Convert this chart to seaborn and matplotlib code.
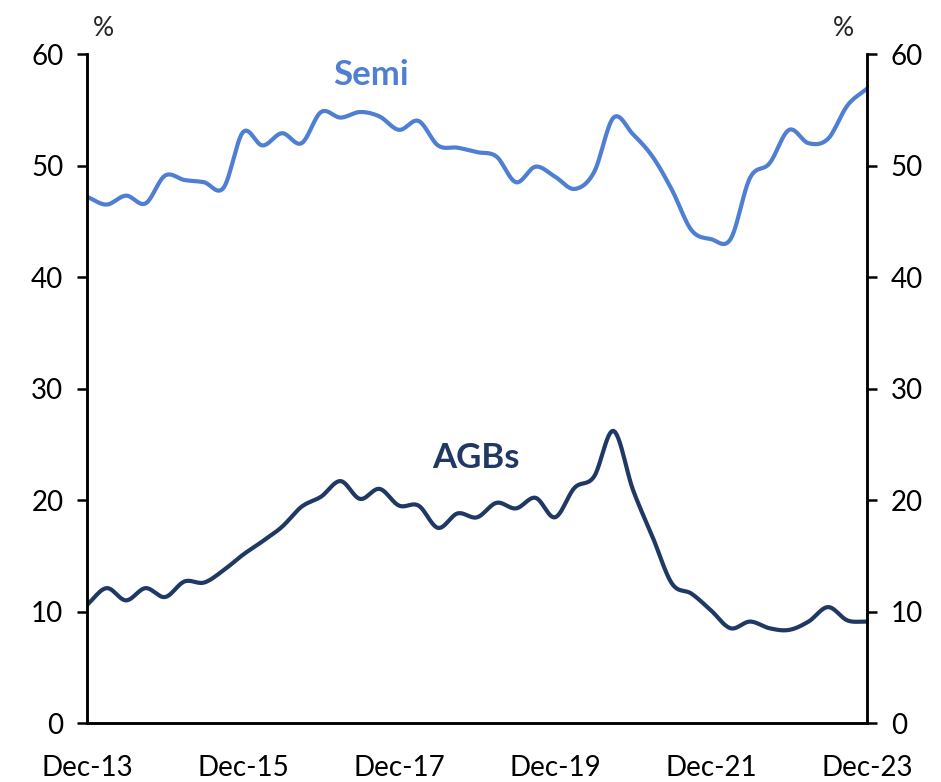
import numpy as np
import pandas as pd
import matplotlib
matplotlib.use("Agg")
import matplotlib.pyplot as plt
import seaborn as sns

# Quarterly observations, Dec-13 through Dec-23 (per cent)
quarters = pd.period_range("2013Q4", "2023Q4", freq="Q")
semi = [47.2, 46.5, 47.3, 46.6, 49.1, 48.7, 48.5, 48.0, 53.0, 51.8,
        52.9, 52.0, 54.8, 54.3, 54.8, 54.4, 53.2, 54.0, 51.8, 51.6,
        51.2, 50.8, 48.5, 49.9, 49.0, 47.9, 49.4, 54.3, 52.8, 50.8,
        47.8, 44.2, 43.4, 43.4, 48.9, 50.2, 53.2, 52.0, 52.4, 55.4,
        56.9]
agbs = [10.6, 12.1, 11.0, 12.1, 11.3, 12.7, 12.6, 13.7, 15.1, 16.3,
        17.6, 19.4, 20.3, 21.7, 20.1, 21.0, 19.5, 19.5, 17.5, 18.8,
        18.45, 19.75, 19.25, 20.2, 18.45, 21.1, 22.1, 26.2, 20.9, 16.7,
        12.5, 11.6, 10.1, 8.5, 9.1, 8.5, 8.35, 9.1, 10.4, 9.2,
        9.1]
tick_labels = ["Dec-13", "Dec-15", "Dec-17", "Dec-19", "Dec-21", "Dec-23"]

SEMI_COLOR = "#4E7FD2"
AGB_COLOR = "#1F3864"


def smooth(y, steps=12):
    """Catmull-Rom curve through the points, as spreadsheet 'smoothed lines' do."""
    y = np.asarray(y, dtype=float)
    x = np.arange(len(y), dtype=float)
    p = np.concatenate([[2 * y[0] - y[1]], y, [2 * y[-1] - y[-2]]])
    xs, ys = [], []
    t = np.linspace(0, 1, steps, endpoint=False)
    for i in range(len(y) - 1):
        p0, p1, p2, p3 = p[i], p[i + 1], p[i + 2], p[i + 3]
        seg = 0.5 * ((2 * p1) + (-p0 + p2) * t
                     + (2 * p0 - 5 * p1 + 4 * p2 - p3) * t ** 2
                     + (-p0 + 3 * p1 - 3 * p2 + p3) * t ** 3)
        xs.append(x[i] + t)
        ys.append(seg)
    xs.append([x[-1]])
    ys.append([y[-1]])
    return np.concatenate(xs), np.concatenate(ys)


sns.set_theme(style="white")
plt.rcParams["font.family"] = ["Lato", "DejaVu Sans"]

fig = plt.figure(figsize=(9.41, 7.82), dpi=100)
ax = fig.add_axes([0.0925, 0.0754, 0.8289, 0.8555])

frames = []
for name, vals in (("Semi", semi), ("AGBs", agbs)):
    xs, ys = smooth(vals)
    frames.append(pd.DataFrame({"q": xs, "value": ys, "series": name}))
df = pd.concat(frames, ignore_index=True)

sns.lineplot(data=df, x="q", y="value", hue="series",
             palette={"Semi": SEMI_COLOR, "AGBs": AGB_COLOR},
             linewidth=3, legend=False, ax=ax, sort=False, estimator=None)

n = len(quarters) - 1
ax.set_xlim(0, n)
ax.set_ylim(0, 60)
ax.set_xticks(np.arange(0, n + 1, 8))
ax.set_xticklabels(tick_labels)
ax.set_yticks(np.arange(0, 61, 10))
ax.set_xlabel("")
ax.set_ylabel("")

ax2 = ax.twinx()
ax2.set_ylim(0, 60)
ax2.set_yticks(np.arange(0, 61, 10))

for a in (ax, ax2):
    for side in ("left", "right", "bottom"):
        a.spines[side].set_visible(True)
        a.spines[side].set_color("black")
        a.spines[side].set_linewidth(1.8)
    a.spines["top"].set_visible(False)
    a.tick_params(axis="both", which="major", direction="out", length=7,
                  width=1.8, color="black", labelsize=20, labelcolor="black")

ax.tick_params(axis="y", pad=10)
ax2.tick_params(axis="y", pad=10)
ax.tick_params(axis="x", pad=16)

ax.text((371 - 87) / 780 * n, 58.1, "Semi", color=SEMI_COLOR,
        fontsize=25, fontweight="bold", ha="center", va="center")
ax.text((476 - 87) / 780 * n, 23.8, "AGBs", color=AGB_COLOR,
        fontsize=25, fontweight="bold", ha="center", va="center")

fig.text(103 / 941, 1 - 29 / 782, "%", fontsize=19, ha="center", va="center")
fig.text(843 / 941, 1 - 29 / 782, "%", fontsize=19, ha="center", va="center")

fig.savefig("out.png", dpi=100, facecolor="white")
